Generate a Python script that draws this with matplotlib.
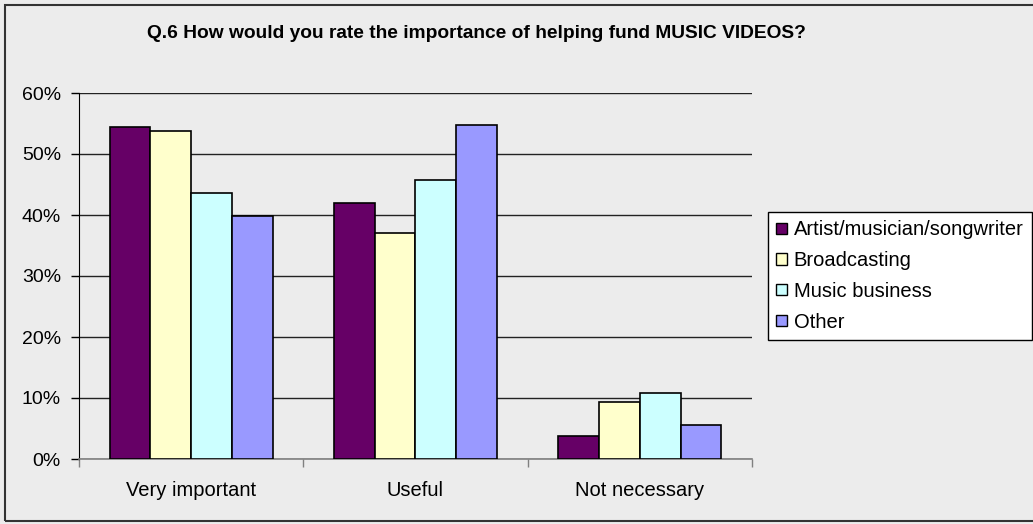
import numpy as np
import matplotlib.pyplot as plt
from matplotlib.patches import Patch, Rectangle

# survey answers, share of respondents per group
categories = ["Very important", "Useful", "Not necessary"]
groups = ["Artist/musician/songwriter", "Broadcasting", "Music business", "Other"]
artist = [54.5, 41.9, 3.7]
broadcasting = [53.7, 37.1, 9.3]
music_business = [43.6, 45.7, 10.8]
other = [39.8, 54.7, 5.5]
yticks = [0, 10, 20, 30, 40, 50, 60]

series = [artist, broadcasting, music_business, other]
colors = ["#660066", "#FFFFCC", "#CCFFFF", "#9999FF"]
bg = "#ECECEC"

plt.rcParams["font.family"] = ["Liberation Sans", "DejaVu Sans"]

fig = plt.figure(figsize=(10.33, 5.24), dpi=100, facecolor=bg)
ax = fig.add_axes([79 / 1033, 1 - 459 / 524, 673 / 1033, 366 / 524])
ax.set_facecolor(bg)

# 150% gap width between groups
x = np.arange(len(categories))
bar_w = 1 / 5.5
for i, vals in enumerate(series):
    ax.bar(x + (i - 1.5) * bar_w, vals, width=bar_w, color=colors[i],
           edgecolor="black", linewidth=1.2, zorder=3)

ax.set_xlim(-0.5, len(categories) - 0.5)
ax.set_ylim(0, 60)
ax.set_yticks(yticks)
ax.set_yticklabels([f"{v}%" for v in yticks], fontsize=14)
ax.yaxis.grid(True, color="#222222", linewidth=1, zorder=1)
ax.tick_params(axis="y", length=6, width=1, color="black", pad=7)

ax.set_xticks(x)
ax.set_xticklabels(categories, fontsize=14.5)
ax.set_xticks(np.arange(-0.5, len(categories)), minor=True)
ax.tick_params(axis="x", which="major", length=0, pad=16)
ax.tick_params(axis="x", which="minor", length=6, width=1, color="#808080")

for side in ["top", "right"]:
    ax.spines[side].set_visible(False)
ax.spines["left"].set_color("black")
ax.spines["bottom"].set_color("#808080")
ax.spines["bottom"].set_linewidth(1.2)

fig.text(476 / 1033, 1 - 33 / 524,
         "Q.6 How would you rate the importance of helping fund MUSIC VIDEOS?",
         ha="center", va="center", fontsize=13.8, fontweight="bold")

handles = [Patch(facecolor=c, edgecolor="black", linewidth=1) for c in colors]
leg = fig.legend(handles, groups, loc="upper left",
                 bbox_to_anchor=(768 / 1033, 1 - 212 / 524),
                 fontsize=14.5, frameon=True, fancybox=False,
                 handlelength=0.5, handleheight=0.5, handletextpad=0.35,
                 labelspacing=0.58, borderpad=0.42, borderaxespad=0)
leg.get_frame().set_facecolor("white")
leg.get_frame().set_edgecolor("black")
leg.get_frame().set_linewidth(1)
leg.get_frame().set_alpha(1)

# outer chart border
fig.patches.append(Rectangle((5 / 1033, 3 / 524), 1.2, 1 - 8 / 524,
                             transform=fig.transFigure, fill=False,
                             edgecolor="#333333", linewidth=1.5))

fig.savefig("out.png", dpi=100, facecolor=bg)
